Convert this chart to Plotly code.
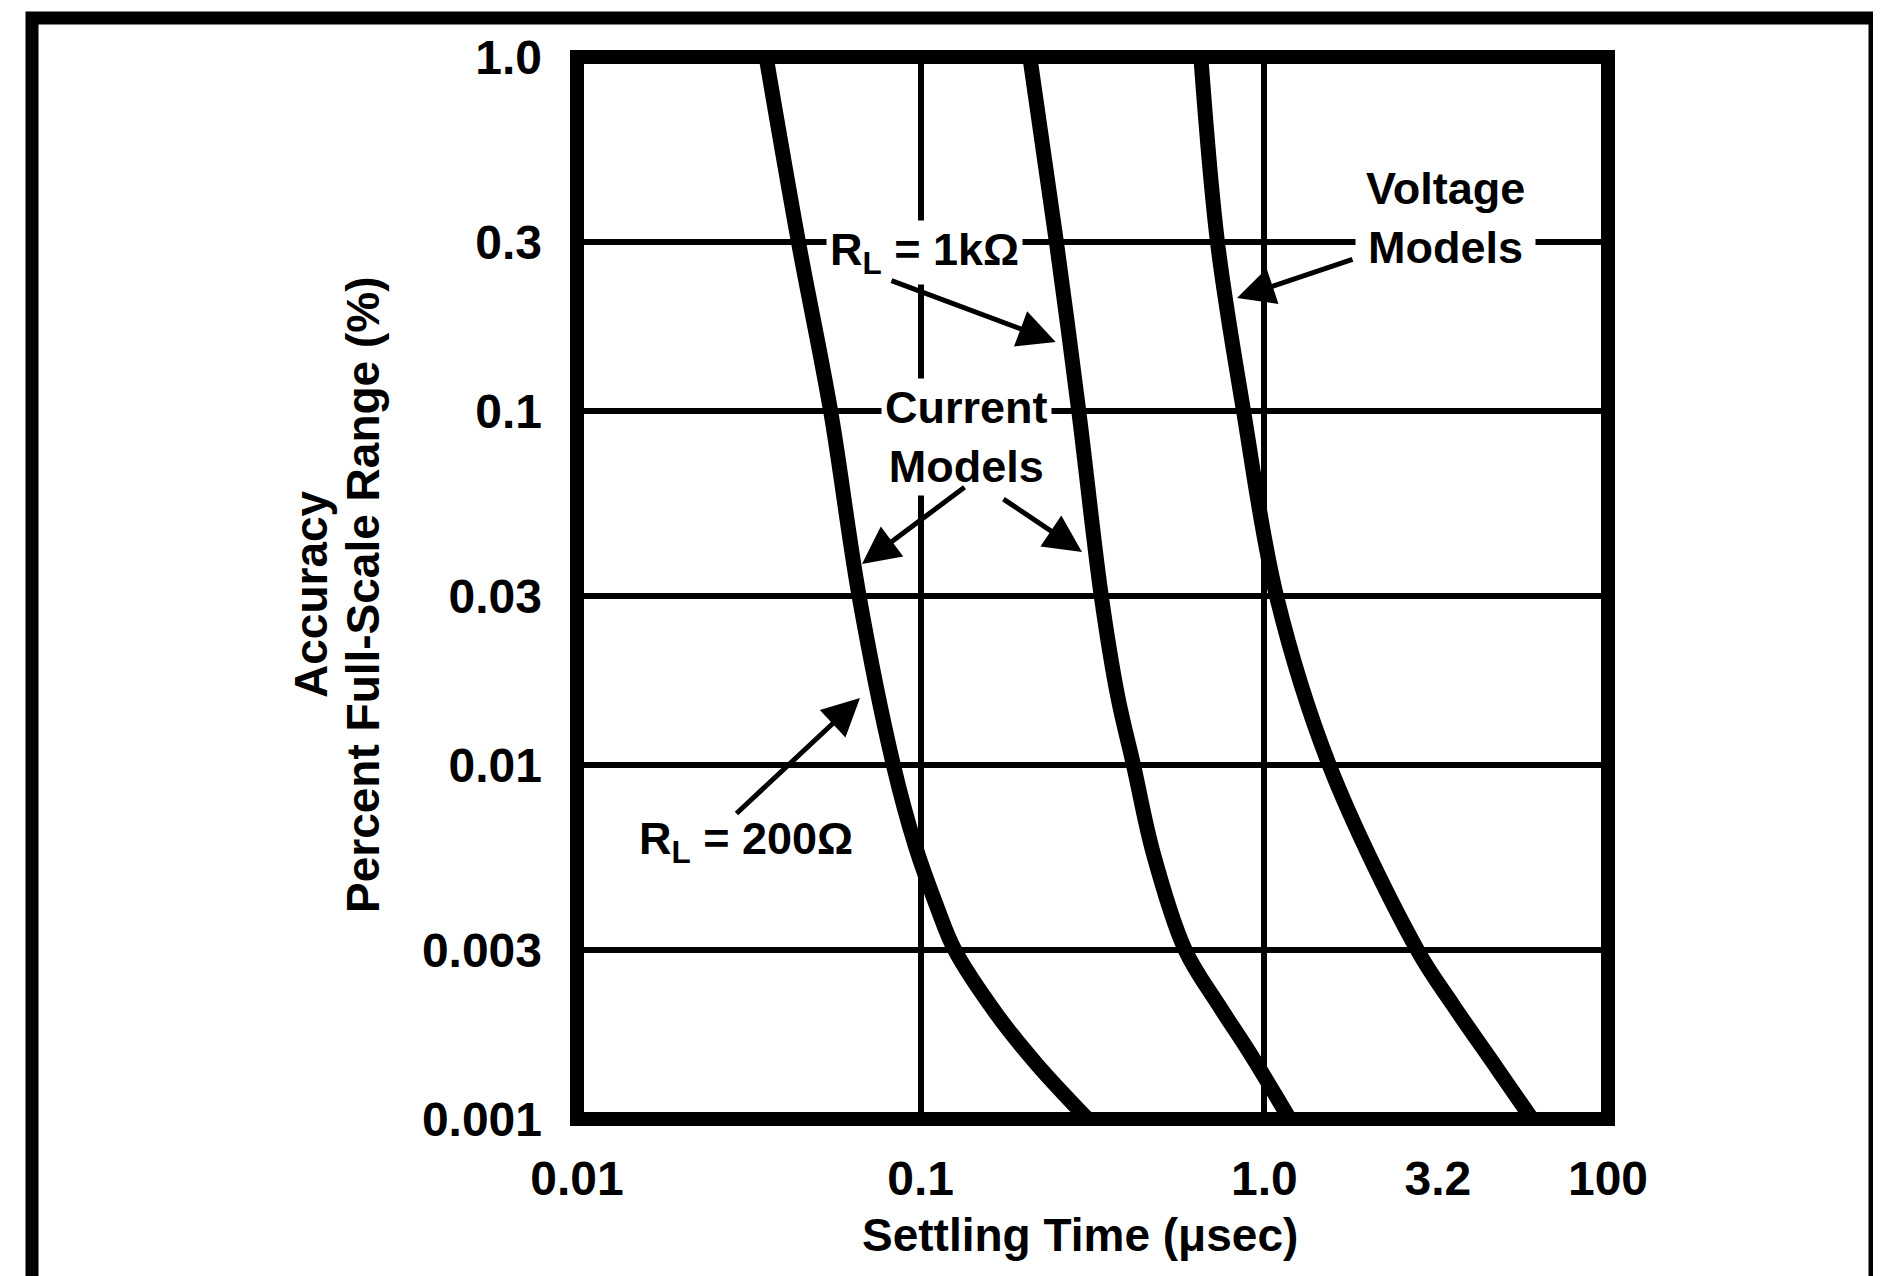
import plotly.graph_objects as go

# ---- data ----
# Settling time (usec) vs accuracy (% of full-scale range)
current_200_time = [0.0355, 0.0441, 0.0547, 0.0662, 0.0833, 0.0967, 0.1110, 0.1257, 0.1665, 0.2178, 0.306]
current_200_acc = [1.0, 0.3, 0.1, 0.03, 0.01, 0.005864, 0.004024, 0.003, 0.001975, 0.001427, 0.001]

current_1k_time = [0.2078, 0.2483, 0.2884, 0.3354, 0.3750, 0.4162, 0.4744, 0.5886, 0.7355, 0.9066, 1.185]
current_1k_acc = [1.0, 0.3, 0.1, 0.03, 0.01552, 0.01, 0.00566, 0.003, 0.002101, 0.001538, 0.001]

voltage_time = [0.6535, 0.7306, 0.8700, 1.085, 1.545, 2.789, 3.538, 4.770, 6.009]
voltage_acc = [1.0, 0.3, 0.1, 0.03, 0.01, 0.003, 0.002101, 0.001383, 0.001]

x_tickvals = [0.01, 0.1, 1, 3.2, 10]
x_ticktext = ["0.01", "0.1", "1.0", "3.2", "100"]
x_gridvals = [0.1, 1]
y_tickvals = [1.0, 0.3, 0.1, 0.03, 0.01, 0.003, 0.001]
y_ticktext = ["1.0", "0.3", "0.1", "0.03", "0.01", "0.003", "0.001"]

FONT = "Liberation Sans, Arial, sans-serif"
# the page body has an 8px default margin, so the figure is drawn 8px smaller
OFF = 8
W, H = 1881 - OFF, 1276 - OFF
L, R, T, B = 577 - OFF, 273, 57 - OFF, 157
PW, PH = W - L - R, H - T - B


def px_x(p):
    # window pixel -> paper x
    return (p - OFF - L) / PW


def px_y(p):
    # window pixel -> paper y
    return (H - B - (p - OFF)) / PH


fig = go.Figure()
for name, xs, ys in [
    ("Current Models, RL = 200Ω", current_200_time, current_200_acc),
    ("Current Models, RL = 1kΩ", current_1k_time, current_1k_acc),
    ("Voltage Models", voltage_time, voltage_acc),
]:
    fig.add_trace(go.Scatter(
        x=xs, y=ys, mode="lines", name=name,
        line=dict(color="black", width=15, shape="spline", smoothing=1.0),
        showlegend=False, hoverinfo="x+y+name",
    ))

tick_font = dict(family=FONT, size=48, color="black", weight="bold")
fig.update_xaxes(
    type="log", range=[-2, 1],
    tickmode="array", tickvals=x_tickvals, ticktext=x_ticktext,
    showgrid=False, zeroline=False, showline=False, ticks="",
    tickfont=tick_font, ticklabelstandoff=27,
    minor=dict(tickmode="array", tickvals=x_gridvals, showgrid=True,
               gridcolor="black", gridwidth=6, ticks=""),
)
fig.update_yaxes(
    type="log", range=[-3, 0],
    tickmode="array", tickvals=y_tickvals, ticktext=y_ticktext,
    showgrid=True, gridcolor="black", gridwidth=6,
    zeroline=False, showline=False, ticks="",
    tickfont=tick_font, ticklabelstandoff=34,
)

title_font = dict(family=FONT, size=46, color="black", weight="bold")
ann_font = dict(family=FONT, size=45, color="black", weight="bold")
annotations = [
    # axis titles
    dict(xref="paper", yref="paper", x=px_x(311), y=px_y(594),
         xanchor="center", yanchor="middle",
         text="Accuracy", textangle=-90, showarrow=False, font=title_font),
    dict(xref="paper", yref="paper", x=px_x(363), y=px_y(595),
         xanchor="center", yanchor="middle",
         text="Percent Full-Scale Range (%)", textangle=-90, showarrow=False, font=title_font),
    dict(xref="paper", yref="paper", x=px_x(1080), y=px_y(1235),
         xanchor="center", yanchor="middle",
         text="Settling Time (μsec)", showarrow=False, font=title_font),
    # labels inside the plot (positions in log10 axis units)
    dict(x=-0.9903, y=-0.551, text="R<sub>L</sub> = 1kΩ", showarrow=False,
         xanchor="center", yanchor="middle",
         bgcolor="white", borderpad=3, font=ann_font),
    dict(x=-0.8652, y=-1.0734, text="Current<br>Models", showarrow=False,
         xanchor="center", yanchor="middle",
         bgcolor="white", borderpad=3, font=ann_font),
    dict(x=0.5257, y=-0.4548, text="Voltage<br>Models", showarrow=False,
         xanchor="center", yanchor="middle",
         bgcolor="white", borderpad=10, font=ann_font),
    dict(x=-1.5083, y=-2.2147, text="R<sub>L</sub> = 200Ω", showarrow=False,
         xanchor="center", yanchor="middle", font=ann_font),
]
# arrows: (head_x, head_y, tail_x, tail_y) in log10 axis units
arrows = [
    (-0.607, -0.805, -1.0893, -0.630),
    (-1.1707, -1.432, -0.868, -1.212),
    (-0.5306, -1.398, -0.7634, -1.246),
    (-0.0796, -0.681, 0.2609, -0.5706),
    (-1.1765, -1.811, -1.5403, -2.141),
]
for hx, hy, tx, ty in arrows:
    annotations.append(dict(
        x=hx, y=hy, ax=tx, ay=ty, xref="x", yref="y", axref="x", ayref="y",
        text="", showarrow=True, arrowhead=2, arrowsize=1.5, arrowwidth=5,
        arrowcolor="black", standoff=0, startstandoff=0,
    ))

shapes = [
    # plot frame
    dict(type="rect", xref="paper", yref="paper", x0=0, x1=1, y0=0, y1=1,
         line=dict(color="black", width=14), layer="above"),
    # outer figure border
    dict(type="rect", xref="paper", yref="paper",
         x0=px_x(32), x1=px_x(1875), y0=px_y(1300), y1=px_y(18),
         line=dict(color="black", width=13), layer="above"),
]

fig.update_layout(
    width=W, height=H, autosize=False,
    margin=dict(l=L, r=R, t=T, b=B, pad=0),
    paper_bgcolor="white", plot_bgcolor="white",
    font=dict(family=FONT, color="black"),
    annotations=annotations, shapes=shapes, showlegend=False,
)

fig.write_html("out.html")
